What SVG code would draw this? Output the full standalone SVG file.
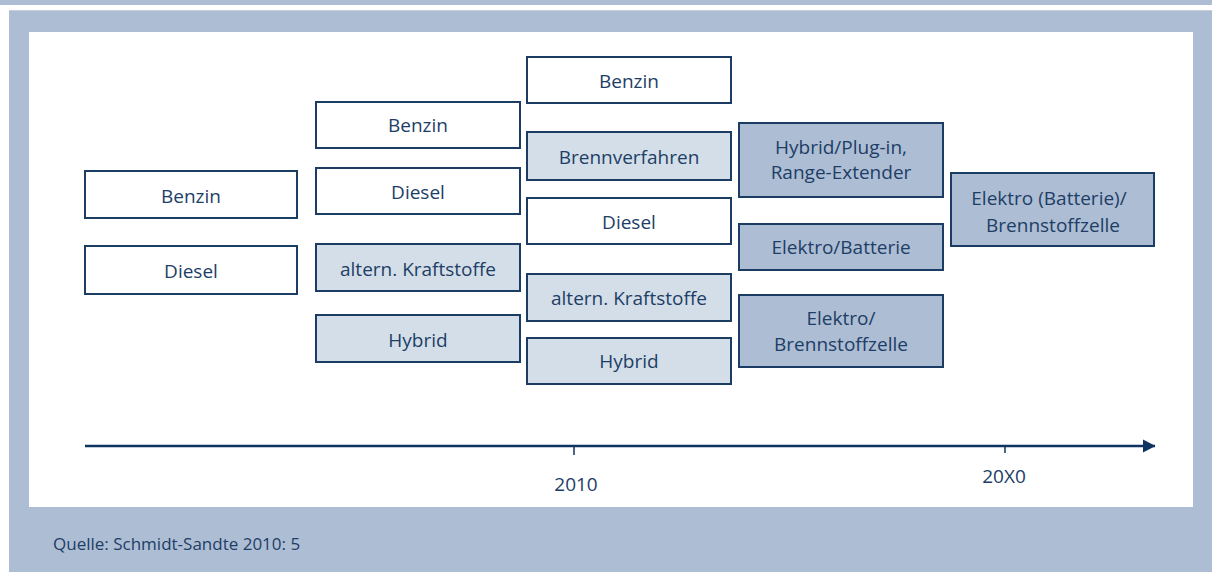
<svg xmlns="http://www.w3.org/2000/svg" width="1212" height="572" viewBox="0 0 1212 572">
<defs>
<style>
.bx{stroke:#1b3c63;stroke-width:2}
.w{fill:#ffffff}
.l{fill:#d4dee8}
.m{fill:#adbdd4}
text{font-family:"Open Sans","Noto Sans",sans-serif;fill:#1d3e66;font-size:19px;text-anchor:middle}
.ax{stroke:#0f3461;stroke-width:2.5;fill:none}
</style>
<marker id="ah" markerWidth="13" markerHeight="14" refX="12" refY="7" orient="auto" markerUnits="userSpaceOnUse">
<path d="M0,0.5 L12.5,7 L0,13.5 Z" fill="#0f3461"/>
</marker>
</defs>
<rect x="0" y="0" width="1212" height="572" fill="#ffffff"/>
<rect x="0" y="0" width="1212" height="5" fill="#adbdd4"/>
<rect x="9" y="10" width="1203" height="562" fill="#adbdd4"/>
<line x1="9" y1="10.5" x2="1212" y2="10.5" stroke="#c9ced6" stroke-width="1"/>
<rect x="29" y="32" width="1164" height="475" fill="#ffffff"/>

<g id="c1-benzin"><rect class="bx w" x="85" y="171" width="212" height="47"/><text x="191" y="203">Benzin</text></g>
<g id="c1-diesel"><rect class="bx w" x="85" y="246" width="212" height="48"/><text x="191" y="278">Diesel</text></g>

<g id="c2-benzin"><rect class="bx w" x="316" y="102" width="204" height="46"/><text x="418" y="132">Benzin</text></g>
<g id="c2-diesel"><rect class="bx w" x="316" y="168" width="204" height="46"/><text x="418" y="199">Diesel</text></g>
<g id="c2-altern"><rect class="bx l" x="316" y="244" width="204" height="47"/><text x="418" y="276">altern. Kraftstoffe</text></g>
<g id="c2-hybrid"><rect class="bx l" x="316" y="315" width="204" height="47"/><text x="418" y="347">Hybrid</text></g>

<g id="c3-benzin"><rect class="bx w" x="527" y="57" width="204" height="46"/><text x="629" y="88">Benzin</text></g>
<g id="c3-brenn"><rect class="bx l" x="527" y="132" width="204" height="48"/><text x="629" y="164">Brennverfahren</text></g>
<g id="c3-diesel"><rect class="bx w" x="527" y="198" width="204" height="46"/><text x="629" y="229">Diesel</text></g>
<g id="c3-altern"><rect class="bx l" x="527" y="274" width="204" height="47"/><text x="629" y="305">altern. Kraftstoffe</text></g>
<g id="c3-hybrid"><rect class="bx l" x="527" y="338" width="204" height="46"/><text x="629" y="368">Hybrid</text></g>

<g id="c4-hybrid"><rect class="bx m" x="739" y="123" width="204" height="74"/><text x="841" y="154">Hybrid/Plug-in,</text><text x="841" y="179">Range-Extender</text></g>
<g id="c4-batt"><rect class="bx m" x="739" y="224" width="204" height="46"/><text x="841" y="254">Elektro/Batterie</text></g>
<g id="c4-bz"><rect class="bx m" x="739" y="295" width="204" height="72"/><text x="841" y="325">Elektro/</text><text x="841" y="351">Brennstoffzelle</text></g>

<g id="c5"><rect class="bx m" x="951" y="173" width="203" height="73"/><text x="1049" y="205">Elektro (Batterie)/</text><text x="1053" y="232">Brennstoffzelle</text></g>

<g id="connectors">
<line class="ax" x1="85" y1="446" x2="1155" y2="446" marker-end="url(#ah)"/>
<line x1="574" y1="446" x2="574" y2="455" stroke="#0f3461" stroke-width="1.5"/>
<line x1="1005" y1="446" x2="1005" y2="453" stroke="#0f3461" stroke-width="1.5"/>
</g>
<text x="576" y="491">2010</text>
<text x="1004" y="483">20X0</text>
<text x="53" y="550" style="text-anchor:start;font-size:17px">Quelle: Schmidt-Sandte 2010: 5</text>
</svg>
